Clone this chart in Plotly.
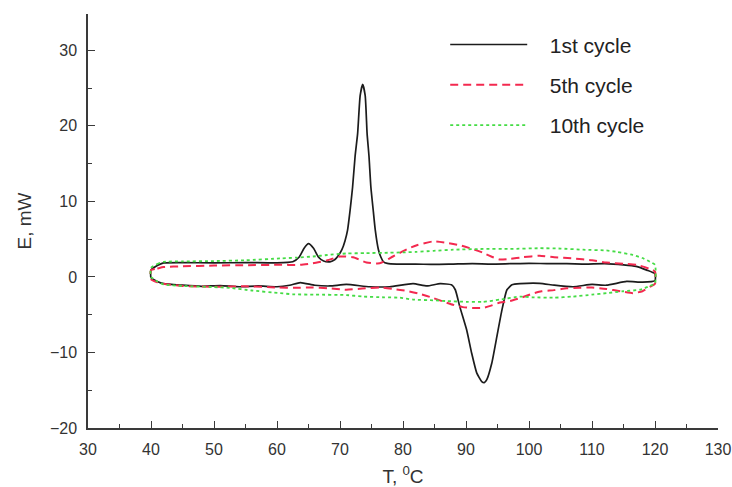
import plotly.graph_objects as go

# ---- data (T in degC, E in mW) ----
# 1st cycle
T_heat_1 = [40, 41, 42, 45, 50, 55, 60, 62.5, 63.5, 64.3, 65, 65.8, 66.6, 67.4, 68.4, 69.2, 69.8,
            70.3, 70.8, 71.2, 71.6, 72.0, 72.4, 72.8, 73.2, 73.6, 74.0, 74.3, 74.6, 74.9, 75.3, 75.6,
            76.1, 76.5, 76.9, 77.5, 79, 82, 85, 88, 91, 94, 97, 100, 103, 106, 109, 112, 115, 117,
            118.7, 120]
E_heat_1 = [0.9, 1.5, 1.85, 1.9, 1.85, 1.9, 1.85, 2.0, 2.6, 3.8, 4.4, 3.8, 2.6, 2.1, 2.0, 2.3, 2.9,
            3.6, 4.8, 6.2, 8.8, 11.9, 16.0, 19.0, 24.0, 25.5, 24.0, 19.0, 16.0, 11.9, 8.6, 6.2,
            3.6, 2.6, 2.0, 1.8, 1.7, 1.7, 1.65, 1.7, 1.75, 1.7, 1.75, 1.8, 1.75, 1.75, 1.7, 1.75, 1.6,
            1.4, 0.9, 0.4]
T_cool_1 = [40, 41, 42, 45, 48, 51, 54, 57, 60, 62, 63.7, 66, 68.4, 71, 74.7, 77.9, 81.6, 83.8, 85.9,
            87.7, 88.3, 89.0, 90.1, 90.9, 91.7, 92.5, 92.9, 93.3, 94.1, 94.9, 95.7, 96.5, 97.3, 98.6,
            101.7, 104, 107, 110, 112.3, 115.5, 118, 120]
E_cool_1 = [-0.1, -0.6, -0.9, -1.1, -1.25, -1.15, -1.3, -1.2, -1.3, -1.1, -0.75, -1.1, -1.2, -1.0,
            -1.3, -1.3, -0.9, -1.2, -0.9, -1.05, -1.7, -3.9, -7.0, -10.1, -12.7, -13.85, -14.0, -13.6,
            -11.4, -7.9, -4.4, -1.7, -1.05, -0.9, -0.85, -1.1, -1.3, -1.0, -1.1, -0.6, -0.7, -0.5]

# 5th cycle
T_heat_5 = [40, 41, 42, 45, 50, 55, 60, 63.7, 65.7, 68, 70, 72.1, 74.2, 76.3, 78.4, 80.6, 82.2, 84.8,
            87, 89, 91, 92.7, 94, 95.4, 97, 99, 101.7, 104, 107, 110, 112.3, 115, 117.1, 119.2, 120]
E_heat_5 = [0.9, 1.1, 1.3, 1.4, 1.5, 1.55, 1.6, 1.6, 1.8, 2.2, 2.7, 2.6, 1.9, 1.8, 2.7, 3.65, 4.2, 4.7,
            4.5, 4.2, 3.7, 3.2, 2.7, 2.3, 2.4, 2.6, 2.8, 2.6, 2.45, 2.2, 1.9, 1.75, 1.6, 1.05, 0.7]
T_cool_5 = [40, 41, 42, 45, 50, 55, 60, 63, 65.7, 68, 71, 73.5, 76.3, 78.5, 80.6, 82.5, 84.8, 86.5,
            88, 89.5, 91, 92.7, 94, 95.4, 97, 98.6, 100.6, 102, 104, 106, 108, 110, 112.3, 114.5,
            116.5, 118, 119.2, 120]
E_cool_5 = [-0.3, -0.7, -0.9, -1.2, -1.3, -1.25, -1.4, -1.45, -1.4, -1.5, -1.7, -1.55, -1.4, -1.6,
            -1.85, -2.2, -2.8, -3.3, -3.7, -4.0, -4.1, -4.1, -3.8, -3.4, -3.2, -2.8, -2.2, -1.9,
            -1.75, -1.5, -1.45, -1.4, -1.6, -1.9, -2.15, -1.9, -1.3, -0.9]

# 10th cycle
T_heat_10 = [40, 41, 42, 45, 50, 55, 60.5, 63, 65.7, 68, 71, 74, 77.9, 80, 82, 84.8, 88, 92.7, 97,
             101.7, 105, 108.6, 112.3, 114, 116.5, 118, 119.2, 120]
E_heat_10 = [1.2, 1.7, 2.0, 2.05, 2.1, 2.2, 2.45, 2.55, 2.7, 2.9, 3.1, 3.15, 3.2, 3.25, 3.3, 3.45,
             3.6, 3.7, 3.7, 3.8, 3.75, 3.6, 3.5, 3.3, 2.9, 2.5, 2.0, 1.6]
T_cool_10 = [40, 41, 42, 45, 50, 52.5, 56, 60.5, 62.5, 66, 71, 73.6, 77, 79.5, 81.6, 84.8, 87, 90.2,
             92.7, 95.4, 98.6, 100.6, 104, 107, 110, 112.3, 115, 117.6, 119.2, 120]
E_cool_10 = [0.0, -0.6, -1.0, -1.2, -1.35, -1.45, -1.8, -2.15, -2.3, -2.35, -2.4, -2.6, -2.7, -2.75,
             -3.0, -3.1, -3.2, -3.3, -3.3, -3.0, -2.6, -2.7, -2.75, -2.6, -2.35, -2.15, -1.9, -1.7,
             -1.2, -0.85]

names = ["1st cycle", "5th cycle", "10th cycle"]
x_ticks = list(range(30, 131, 10))
y_ticks = list(range(-20, 31, 10))


def loop(th, eh, tc, ec):
    x = th + tc[::-1] + [th[0]]
    y = eh + ec[::-1] + [eh[0]]
    return x, y


series = [
    (loop(T_heat_1, E_heat_1, T_cool_1, E_cool_1), dict(color="#1c1c1c", width=1.7, dash="solid")),
    (loop(T_heat_5, E_heat_5, T_cool_5, E_cool_5), dict(color="#f3294f", width=2, dash="8px,5px")),
    (loop(T_heat_10, E_heat_10, T_cool_10, E_cool_10), dict(color="#45dc45", width=1.8, dash="3px,3px")),
]

NBSP = "\u00a0"
fig = go.Figure()
for name, ((x, y), line) in zip(names, series):
    fig.add_trace(go.Scatter(x=x, y=y, mode="lines", name=NBSP * 3 + name,
                             line=dict(shape="spline", smoothing=0.5, **line),
                             legendgroup=name))

font_family = "Arial, Liberation Sans, sans-serif"
axis_common = dict(
    showline=True, linecolor="#3a3a3a", linewidth=1.5, mirror=False,
    showgrid=False, zeroline=False, automargin=False,
    ticks="inside", ticklen=7, tickwidth=1.3, tickcolor="#3a3a3a",
    tickfont=dict(family=font_family, size=16, color="#333333"),
    ticklabelstandoff=6,
    minor=dict(ticks="inside", ticklen=4, tickwidth=1.1, tickcolor="#3a3a3a", dtick=5, showgrid=False),
)

fig.update_layout(
    width=732, height=487,
    margin=dict(l=88, r=14, t=14, b=59),
    paper_bgcolor="white", plot_bgcolor="white",
    font=dict(family=font_family, color="#333333"),
    xaxis=dict(range=[30, 130], tickvals=x_ticks, **axis_common,
               title=dict(text="T, <sup>0</sup>C", font=dict(size=19, color="#333333"), standoff=16)),
    yaxis=dict(range=[-20, 34.8], tickvals=y_ticks, **axis_common,
               title=dict(text="E, mW", font=dict(size=19, color="#333333"), standoff=13)),
    legend=dict(x=0.567, y=0.975, xanchor="left", yanchor="top",
                font=dict(family=font_family, size=21, color="#222222"),
                bgcolor="rgba(0,0,0,0)", itemwidth=77, tracegroupgap=10),
    showlegend=True,
)

fig.write_html("out.html")
